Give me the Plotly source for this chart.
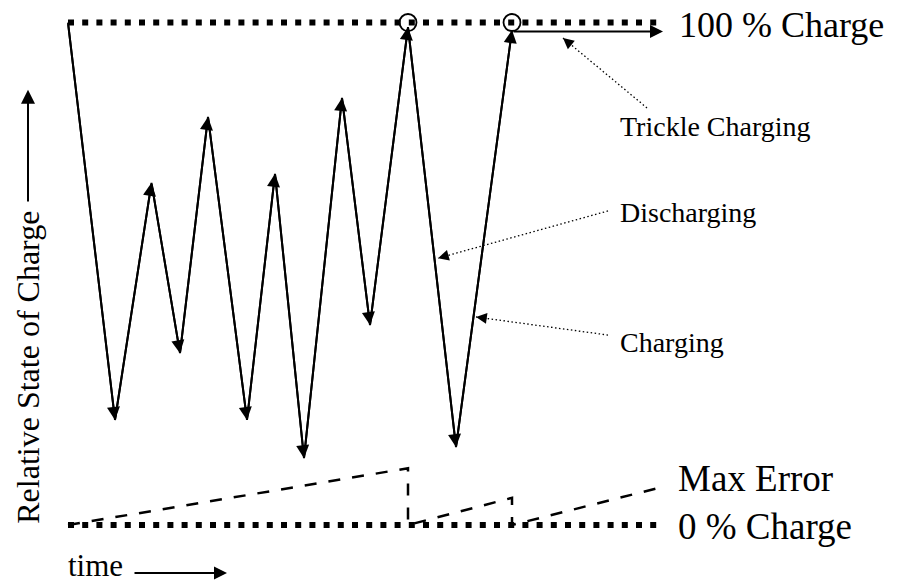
import plotly.graph_objects as go

# relative state of charge (%) against time (arbitrary units)
cycle_time = [0, 9.4, 16.7, 22.4, 28.0, 35.8, 41.4, 47.2, 54.8, 60.4, 68.0, 77.6, 88.8]
cycle_soc = [100, 20.9, 68.1, 34.2, 81.2, 20.9, 69.9, 13.3, 85.0, 39.8, 99.1, 15.5, 98.5]

full_time = [68.0, 88.8]
full_soc = [100, 100]

trickle_time = [88.8, 119.0]
trickle_soc = [98.2, 98.2]

error_time = [0, 68.0, 68.0, 88.8, 88.8, 119.0]
error_soc = [0, 11.3, 0, 5.4, 0, 7.6]

level_time = [0, 117.8]
level_soc = [100, 0]
level_labels = ['100 % Charge', '0 % Charge']

pointer_labels = ['Trickle Charging', 'Discharging', 'Charging']
pointer_label_time = [110, 110, 110]
pointer_label_soc = [79.4, 62.1, 36.4]
pointer_from_time = [115.8, 108.0, 108.0]
pointer_from_soc = [83.0, 62.5, 37.8]
pointer_to_time = [99.0, 74.0, 81.6]
pointer_to_soc = [96.9, 53.1, 41.4]

W, H = 897, 584
X_RANGE = [-13.6, 165.8]
Y_RANGE = [-11.74, 104.48]
FONT = 'Liberation Serif, Times New Roman, serif'

px_t = W / (X_RANGE[1] - X_RANGE[0])
px_s = H / (Y_RANGE[1] - Y_RANGE[0])

fig = go.Figure()

# 100 % and 0 % levels
for s in level_soc:
    fig.add_trace(go.Scatter(
        x=level_time, y=[s, s], mode='lines',
        line=dict(color='black', width=6, dash='6px,8.2px'),
    ))

# max error sawtooth
fig.add_trace(go.Scatter(
    x=error_time, y=error_soc, mode='lines',
    line=dict(color='black', width=2.5, dash='12px,12px'),
))

# charge / discharge cycles
fig.add_trace(go.Scatter(
    x=cycle_time, y=cycle_soc, mode='lines',
    line=dict(color='black', width=2),
))

fig.add_trace(go.Scatter(
    x=full_time, y=full_soc, mode='markers',
    marker=dict(symbol='circle-open', size=17, color='black', line=dict(width=1.8)),
))

# dotted pointers from the labels
for i in range(len(pointer_labels)):
    fig.add_trace(go.Scatter(
        x=[pointer_from_time[i], pointer_to_time[i]],
        y=[pointer_from_soc[i], pointer_to_soc[i]],
        mode='lines', line=dict(color='black', width=1.3, dash='1.5px,2.5px'),
    ))

annotations = []

# arrowheads on every segment of the cycle
for i in range(1, len(cycle_time)):
    annotations.append(dict(
        x=cycle_time[i], y=cycle_soc[i], ax=cycle_time[i - 1], ay=cycle_soc[i - 1],
        xref='x', yref='y', axref='x', ayref='y', text='', showarrow=True,
        arrowhead=2, arrowsize=1.3, arrowwidth=2, arrowcolor='black',
    ))

# trickle charging arrow
annotations.append(dict(
    x=trickle_time[1], y=trickle_soc[1], ax=trickle_time[0], ay=trickle_soc[0],
    xref='x', yref='y', axref='x', ayref='y', text='', showarrow=True,
    arrowhead=2, arrowsize=1.3, arrowwidth=2, arrowcolor='black',
))

for i, label in enumerate(pointer_labels):
    dx = (pointer_from_time[i] - pointer_to_time[i]) * px_t
    dy = -(pointer_from_soc[i] - pointer_to_soc[i]) * px_s
    n = (dx ** 2 + dy ** 2) ** 0.5
    annotations.append(dict(
        x=pointer_to_time[i], y=pointer_to_soc[i], ax=dx / n * 12, ay=dy / n * 12,
        xref='x', yref='y', text='', showarrow=True,
        arrowhead=2, arrowsize=1.8, arrowwidth=1.2, arrowcolor='black',
    ))
    annotations.append(dict(
        x=pointer_label_time[i], y=pointer_label_soc[i], text=label,
        xref='x', yref='y', xanchor='left', yanchor='middle', showarrow=False,
        font=dict(family=FONT, size=28, color='black'),
    ))

annotations += [
    dict(x=122, y=99.5, text=level_labels[0], xanchor='left', yanchor='middle',
         showarrow=False, borderpad=0, font=dict(family=FONT, size=36, color='black')),
    dict(x=121.6, y=9.2, text='Max Error', xanchor='left', yanchor='middle',
         showarrow=False, font=dict(family=FONT, size=37, color='black')),
    dict(x=121.6, y=-0.2, text=level_labels[1], xanchor='left', yanchor='middle',
         showarrow=False, font=dict(family=FONT, size=37, color='black')),
    # axis labels
    dict(x=-8, y=31.3, text='Relative State of Charge', textangle=-90,
         xanchor='center', yanchor='middle', showarrow=False,
         font=dict(family=FONT, size=32, color='black')),
    dict(x=-8, y=86.6, ax=-8, ay=64.1, xref='x', yref='y', axref='x', ayref='y',
         text='', showarrow=True, arrowhead=2, arrowsize=1.4, arrowwidth=2,
         arrowcolor='black'),
    dict(x=-0.2, y=Y_RANGE[0], text='time', xanchor='left', yanchor='bottom',
         showarrow=False, borderpad=0, font=dict(family=FONT, size=31, color='black')),
    dict(x=31.8, y=-9.55, ax=13, ay=-9.55, xref='x', yref='y', axref='x', ayref='y',
         text='', showarrow=True, arrowhead=2, arrowsize=1.3, arrowwidth=2,
         arrowcolor='black'),
]

fig.update_layout(
    width=W, height=H,
    margin=dict(l=0, r=0, t=0, b=0),
    paper_bgcolor='white', plot_bgcolor='white',
    showlegend=False,
    hovermode=False,
    xaxis=dict(range=X_RANGE, visible=False, fixedrange=True),
    yaxis=dict(range=Y_RANGE, visible=False, fixedrange=True),
    annotations=annotations,
)

# drop the default page margin so the figure fills the window exactly
fig.write_html(
    'out.html',
    config={'displayModeBar': False},
    post_script="document.body.style.margin = '0';",
)
